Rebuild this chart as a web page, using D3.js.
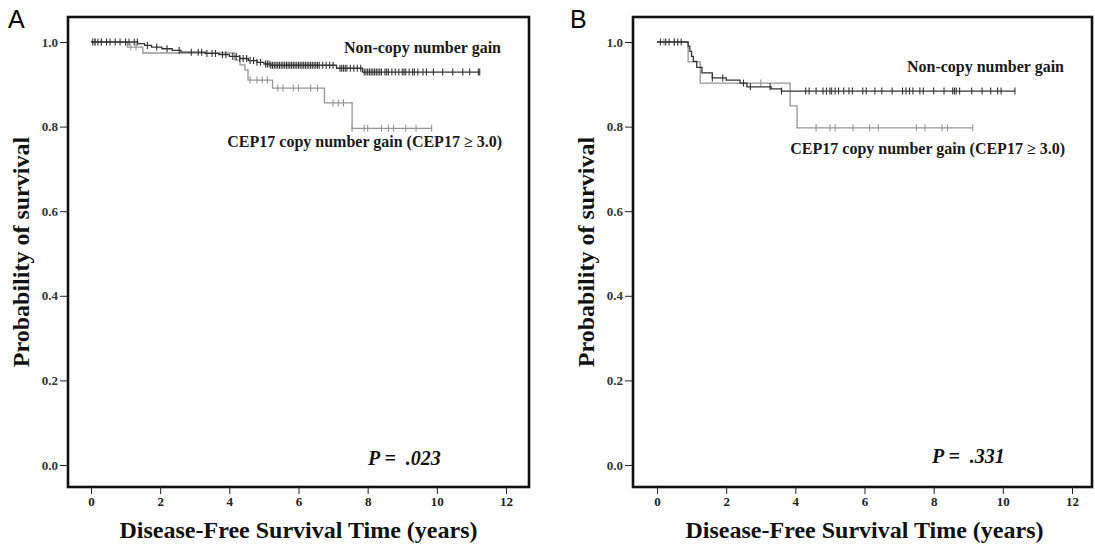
<!DOCTYPE html>
<html lang="en">
<head>
<meta charset="UTF-8">
<title>CEP17 copy number gain - Disease-free survival</title>
<script src="https://d3js.org/d3.v7.min.js"></script>
<style>
  body { margin: 0; background: #fff; }
  svg text { font-family: "Liberation Serif", "Times New Roman", serif; }
</style>
</head>
<body>
<div id="chart"></div>
<script>
// axis ticks
var years = [0, 2, 4, 6, 8, 10, 12];
var probTicks = [0, 0.2, 0.4, 0.6, 0.8, 1.0];

// panel A, non-copy number gain (step times / survival / censored times)
var aNonTimes = [0, 1.35, 1.55, 1.75, 2.05, 2.35, 2.6, 3.3, 3.7, 4.0, 4.3, 4.55, 4.8, 5.0, 5.2, 7.1, 7.85];
var aNonSurv  = [1, 0.996, 0.992, 0.988, 0.984, 0.98, 0.976, 0.973, 0.97, 0.966, 0.961, 0.956, 0.952, 0.948, 0.945, 0.938, 0.929];
var aNonEnd = 11.24;
var aNonCens = [0.05, 0.12, 0.2, 0.3, 0.45, 0.55, 0.7, 0.84, 1.0, 1.1, 1.25, 1.34, 1.63, 1.9, 2.2, 2.55, 2.9, 3.1, 3.2, 3.35, 3.5, 3.6, 3.8, 3.9,
  4.1, 4.2, 4.3, 4.4, 4.5, 4.6, 4.7, 4.8, 4.9, 5.05, 5.1, 5.15, 5.2, 5.25, 5.3, 5.35, 5.4, 5.45, 5.5, 5.55, 5.6, 5.65, 5.7, 5.75, 5.8, 5.85, 5.9, 5.95,
  6.0, 6.05, 6.1, 6.15, 6.2, 6.25, 6.3, 6.35, 6.4, 6.45, 6.5, 6.55, 6.6, 6.7, 6.8, 6.9, 7.0, 7.2, 7.25, 7.3, 7.35, 7.4, 7.5, 7.6, 7.7, 7.8,
  7.9, 7.95, 8.0, 8.05, 8.1, 8.15, 8.2, 8.25, 8.3, 8.35, 8.4, 8.5, 8.55, 8.6, 8.7, 8.8, 8.9, 9.0, 9.05, 9.1, 9.2, 9.3, 9.35, 9.45, 9.6,
  9.7, 9.9, 10.17, 10.46, 10.75, 10.95, 11.2];

// panel A, CEP17 copy number gain
var aGainTimes = [0, 1.05, 1.5, 4.16, 4.31, 4.45, 4.54, 5.25, 6.75, 7.55];
var aGainSurv  = [1, 0.988, 0.974, 0.957, 0.946, 0.934, 0.91, 0.891, 0.856, 0.796];
var aGainEnd = 9.85;
var aGainCens = [0.1, 0.3, 1.15, 1.3, 4.6, 4.8, 4.95, 5.1, 5.4, 5.55, 5.85, 6.0, 6.35, 6.55, 7.0, 7.15, 7.3, 7.55,
  7.9, 8.0, 8.4, 8.6, 8.75, 9.1, 9.4];

// panel B, non-copy number gain
var bNonTimes = [0, 0.9, 0.95, 1.0, 1.05, 1.15, 1.3, 1.6, 2.0, 2.4, 2.6, 3.3, 3.6];
var bNonSurv  = [1, 0.99, 0.978, 0.966, 0.954, 0.94, 0.927, 0.915, 0.91, 0.903, 0.894, 0.889, 0.884];
var bNonEnd = 10.35;
var bNonCens = [0.1, 0.25, 0.35, 0.5, 0.6, 0.7, 1.6, 1.9, 2.5, 2.7, 3.27, 3.6, 4.3, 4.4, 4.6, 4.8, 4.9, 5.0, 5.05, 5.15,
  5.25, 5.4, 5.55, 5.65, 5.95, 6.05, 6.3, 6.5, 6.8, 7.1, 7.2, 7.3, 7.4, 7.6, 7.7, 8.0, 8.3, 8.55, 8.6, 8.65, 8.75,
  9.1, 9.4, 9.65, 9.85, 9.95];

// panel B, CEP17 copy number gain
var bGainTimes = [0, 0.9, 1.25, 3.85, 4.05];
var bGainSurv  = [1, 0.953, 0.903, 0.849, 0.797];
var bGainEnd = 9.13;
var bGainCens = [0.2, 0.5, 3.0, 4.6, 5.0, 5.15, 5.67, 6.15, 6.4, 7.5, 7.75, 8.24, 8.4];

var labelNon = "Non-copy number gain";
var labelGain = "CEP17 copy number gain (CEP17 \u2265 3.0)";

var W = 1095, H = 548;
var svg = d3.select("#chart").append("svg")
  .attr("width", W).attr("height", H);

var panels = [
  { letter: "A", lx: 8, frame: [68, 17, 529, 487], x0: 91, x12: 506, yTitleX: 29,
    non: { t: aNonTimes, s: aNonSurv, end: aNonEnd, c: aNonCens },
    gain: { t: aGainTimes, s: aGainSurv, end: aGainEnd, c: aGainCens },
    nonLbl: [501, 53], gainLbl: [502, 147], p: "P =  .023", px: 368, py: 465 },
  { letter: "B", lx: 570, frame: [633, 17, 1092, 487], x0: 657, x12: 1072, yTitleX: 594,
    non: { t: bNonTimes, s: bNonSurv, end: bNonEnd, c: bNonCens },
    gain: { t: bGainTimes, s: bGainSurv, end: bGainEnd, c: bGainCens },
    nonLbl: [1064, 72], gainLbl: [1065, 154], p: "P =  .331", px: 932, py: 463 }
];

// survival value of a step curve at time t
function survAt(curve, t) {
  var i = d3.bisectRight(curve.t, t) - 1;
  return curve.s[Math.max(0, i)];
}

panels.forEach(function(p) {
  var f = p.frame;
  var x = d3.scaleLinear().domain([0, 12]).range([p.x0, p.x12]);
  var y = d3.scaleLinear().domain([0, 1]).range([465, 42]);
  var g = svg.append("g");

  // panel letter
  g.append("text")
    .attr("x", p.lx).attr("y", 28)
    .style("font-family", "'Liberation Sans', Arial, sans-serif")
    .style("font-size", "25px")
    .text(p.letter);

  // curves
  [["gain", "#959595"], ["non", "#333333"]].forEach(function(pair) {
    var c = p[pair[0]];
    var pts = c.t.map(function(t, i) { return [t, c.s[i]]; });
    pts.push([c.end, c.s[c.s.length - 1]]);
    var line = d3.line()
      .x(function(d) { return x(d[0]); })
      .y(function(d) { return y(d[1]); })
      .curve(d3.curveStepAfter);
    g.append("path")
      .attr("d", line(pts))
      .attr("fill", "none")
      .attr("stroke", pair[1])
      .attr("stroke-width", 1.3);
    g.selectAll(null)
      .data(c.c.concat([c.end]))
      .enter().append("line")
      .attr("x1", function(d) { return x(d); })
      .attr("x2", function(d) { return x(d); })
      .attr("y1", function(d) { return y(survAt(c, d)) - 3.5; })
      .attr("y2", function(d) { return y(survAt(c, d)) + 3.5; })
      .attr("stroke", pair[1])
      .attr("stroke-width", 1.1);
  });

  // frame
  g.append("rect")
    .attr("x", f[0]).attr("y", f[1])
    .attr("width", f[2] - f[0]).attr("height", f[3] - f[1])
    .attr("fill", "none")
    .attr("stroke", "#111")
    .attr("stroke-width", 2.6);

  // x axis
  var xa = g.append("g")
    .attr("transform", "translate(0," + f[3] + ")")
    .call(d3.axisBottom(x).tickValues(years).tickSize(7).tickPadding(3));
  xa.select(".domain").remove();
  xa.selectAll("line").attr("stroke", "#222");
  xa.selectAll("text")
    .style("font-family", "'Liberation Serif', serif")
    .style("font-weight", "bold")
    .style("font-size", "13px")
    .attr("fill", "#222");

  // y axis
  var ya = g.append("g")
    .attr("transform", "translate(" + f[0] + ",0)")
    .call(d3.axisLeft(y).tickValues(probTicks).tickFormat(d3.format(".1f")).tickSize(8).tickPadding(2));
  ya.select(".domain").remove();
  ya.selectAll("line").attr("stroke", "#222");
  ya.selectAll("text")
    .style("font-family", "'Liberation Serif', serif")
    .style("font-weight", "bold")
    .style("font-size", "13px")
    .attr("fill", "#333");

  // axis titles
  g.append("text")
    .attr("x", x(6)).attr("y", 538)
    .attr("text-anchor", "middle")
    .style("font-weight", "bold").style("font-size", "24px")
    .attr("fill", "#111")
    .text("Disease-Free Survival Time (years)");
  g.append("text")
    .attr("transform", "translate(" + p.yTitleX + "," + ((f[1] + f[3]) / 2) + ") rotate(-90)")
    .attr("text-anchor", "middle")
    .style("font-weight", "bold").style("font-size", "24px")
    .attr("fill", "#111")
    .text("Probability of survival");

  // curve labels
  g.append("text")
    .attr("x", p.nonLbl[0]).attr("y", p.nonLbl[1])
    .attr("text-anchor", "end")
    .style("font-weight", "bold").style("font-size", "16px")
    .attr("fill", "#1a1a1a")
    .text(labelNon);
  g.append("text")
    .attr("x", p.gainLbl[0]).attr("y", p.gainLbl[1])
    .attr("text-anchor", "end")
    .style("font-weight", "bold").style("font-size", "16px")
    .attr("fill", "#1a1a1a")
    .text(labelGain);

  // p value
  g.append("text")
    .attr("x", p.px).attr("y", p.py)
    .attr("xml:space", "preserve")
    .style("white-space", "pre")
    .style("font-weight", "bold").style("font-style", "italic").style("font-size", "20px")
    .attr("fill", "#111")
    .text(p.p);
});
</script>
</body>
</html>
